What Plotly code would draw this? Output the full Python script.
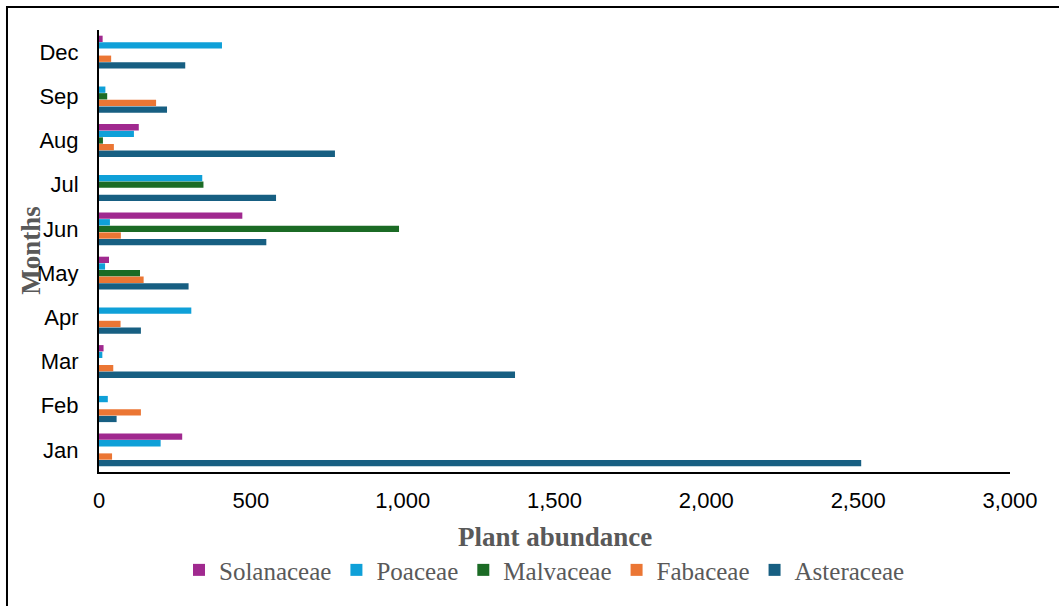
import plotly.graph_objects as go

# Monthly plant abundance by family
months = ["Jan", "Feb", "Mar", "Apr", "May", "Jun", "Jul", "Aug", "Sep", "Dec"]

solanaceae = [274, 0, 15, 0, 33, 472, 0, 131, 0, 12]
poaceae = [203, 29, 11, 304, 20, 36, 340, 115, 21, 405]
malvaceae = [0, 0, 0, 0, 135, 988, 344, 13, 27, 0]
fabaceae = [43, 138, 47, 71, 147, 72, 0, 49, 188, 40]
asteraceae = [2510, 58, 1370, 138, 295, 551, 583, 777, 224, 284]

x_ticks = [0, 500, 1000, 1500, 2000, 2500, 3000]

# drawn bottom-to-top inside each month group
series = [
    ("Asteraceae", asteraceae, "#175F82"),
    ("Fabaceae", fabaceae, "#EB7634"),
    ("Malvaceae", malvaceae, "#1B6B25"),
    ("Poaceae", poaceae, "#0FA0D8"),
    ("Solanaceae", solanaceae, "#A0298F"),
]

fig = go.Figure()
for name, vals, color in series:
    fig.add_trace(go.Bar(
        y=months, x=vals, name=name, orientation="h",
        marker=dict(color=color, line=dict(width=0)),
    ))

fig.update_layout(
    width=1059, height=606,
    margin=dict(l=99, r=49, t=30, b=134),
    paper_bgcolor="white", plot_bgcolor="white",
    barmode="group", bargap=0.25, bargroupgap=0.05,
    showlegend=True,
    legend=dict(
        orientation="h", traceorder="reversed",
        x=0.489, xanchor="center", y=-0.222, yanchor="middle",
        font=dict(family="Liberation Serif", size=25, color="#595959"),
        itemwidth=30,
    ),
    font=dict(family="Liberation Sans", color="black"),
)

fig.update_xaxes(
    range=[0, 3000], tickvals=x_ticks, tickformat=",",
    showgrid=False, zeroline=False,
    showline=True, linecolor="black", linewidth=2,
    ticks="", ticklabelstandoff=8,
    tickfont=dict(family="Liberation Sans", size=22, color="black"),
)
fig.update_yaxes(
    categoryorder="array", categoryarray=months,
    showgrid=False, zeroline=False,
    showline=True, linecolor="black", linewidth=2,
    ticks="", ticklabelstandoff=14,
    tickfont=dict(family="Liberation Sans", size=22, color="black"),
)

fig.add_annotation(
    text="<b>Plant abundance</b>", xref="paper", yref="paper",
    x=0.501, y=-0.147, xanchor="center", yanchor="middle", showarrow=False,
    font=dict(family="Liberation Serif", size=27, color="#595959"),
)
fig.add_annotation(
    text="<b>Months</b>", xref="paper", yref="paper", textangle=-90,
    x=-0.075, y=0.502, xanchor="center", yanchor="middle", showarrow=False,
    font=dict(family="Liberation Serif", size=27, color="#595959"),
)

# outer frame around the chart
fig.add_shape(
    type="rect", xref="paper", yref="paper",
    x0=-0.101, x1=1.2, y0=-0.4, y1=1.052,
    line=dict(color="black", width=2), fillcolor="rgba(0,0,0,0)", layer="below",
)

fig.write_html("out.html")
